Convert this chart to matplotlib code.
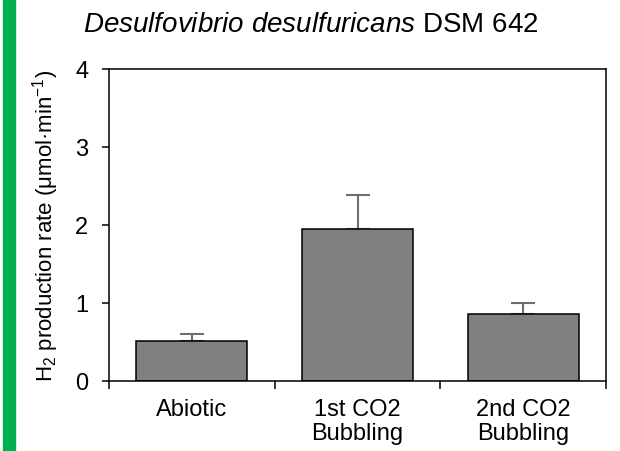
import matplotlib
matplotlib.use("Agg")
import matplotlib.pyplot as plt
from matplotlib.patches import Rectangle

plt.rcParams['font.family'] = ['Liberation Sans', 'DejaVu Sans']
plt.rcParams['mathtext.fontset'] = 'custom'
plt.rcParams['mathtext.rm'] = 'Liberation Sans'
plt.rcParams['mathtext.it'] = 'Liberation Sans:italic'

categories = ['Abiotic', '1st CO2\nBubbling', '2nd CO2\nBubbling']
rates = [0.51, 1.95, 0.86]
errors = [0.09, 0.43, 0.14]
yticks = [0, 1, 2, 3, 4]

fig = plt.figure(figsize=(6.2, 4.52), dpi=100)
ax = fig.add_axes([109/620, 1-382/452, 497/620, 312/452])

# green strip on the left edge
fig.patches.append(Rectangle((3/620, 0), 12/620, 1, transform=fig.transFigure,
                             color='#00B050', zorder=0))

x = list(range(len(categories)))
ax.bar(x, rates, width=0.67, color='#808080', edgecolor='black', linewidth=1.1, zorder=2)
ax.errorbar(x, rates, yerr=[[0]*len(errors), errors], fmt='none', ecolor='#6e6e6e',
            elinewidth=1.5, capsize=8.5, capthick=1.5, zorder=1)

ax.set_xlim(-0.5, len(categories) - 0.5)
ax.set_ylim(0, 4)
ax.set_yticks(yticks)
ax.tick_params(axis='y', direction='out', length=5, width=1.1, pad=10, labelsize=17)

# boundary ticks below the axis, labels at bar centres
ax.set_xticks([i - 0.5 for i in range(len(categories) + 1)])
ax.set_xticklabels([])
ax.set_xticks(x, minor=True)
ax.set_xticklabels(categories, minor=True, fontsize=17, linespacing=1.15)
ax.tick_params(axis='x', which='major', direction='out', length=6, width=1.1)
ax.tick_params(axis='x', which='minor', length=0, pad=12)

for s in ax.spines.values():
    s.set_linewidth(1.1)

fig.text(0.502, 1-32/452, r'$\it{Desulfovibrio\ desulfuricans}$ DSM 642',
         ha='center', va='baseline', fontsize=20)
fig.text(46/620, 1-226/452, r'H$_2$ production rate (μmol·min$^{-1}$)',
         rotation=90, ha='center', va='center', fontsize=16)

fig.savefig('out.png', dpi=100)
